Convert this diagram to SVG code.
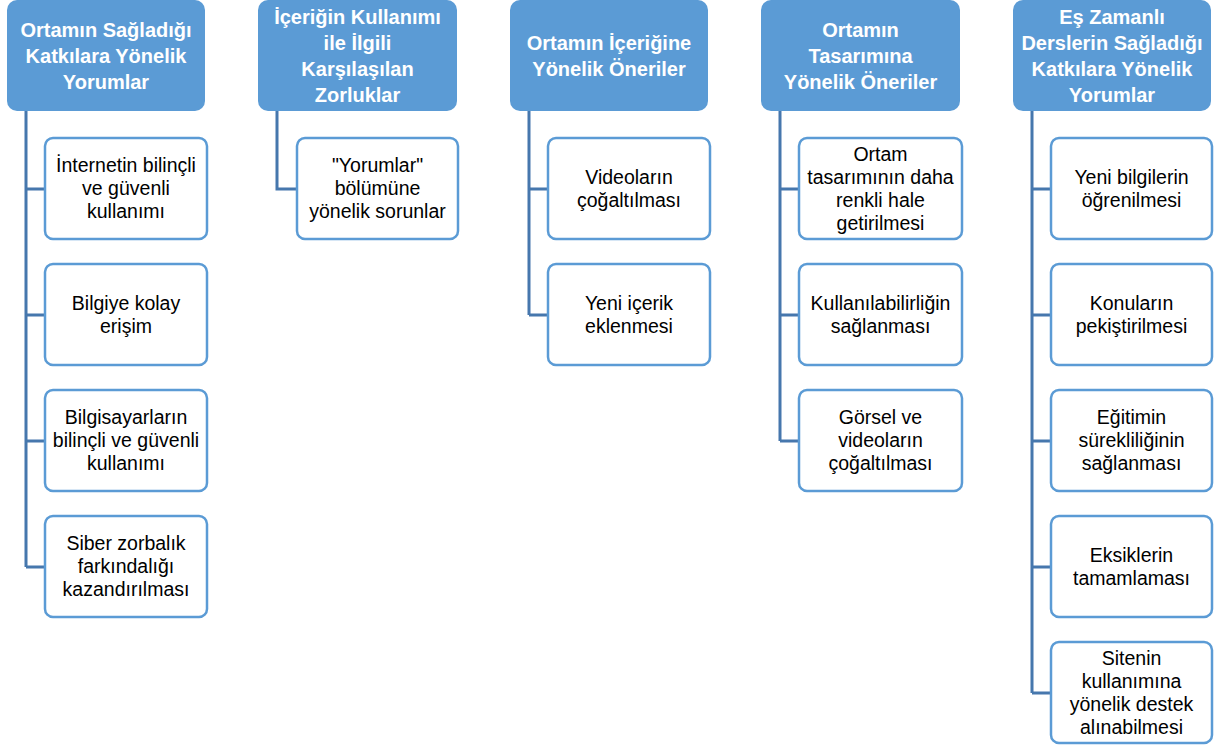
<svg xmlns="http://www.w3.org/2000/svg" width="1222" height="746" viewBox="0 0 1222 746">
<style>
.h rect{fill:#5b9bd5;}
.h text{fill:#fff;font-family:"Liberation Sans",Arial,sans-serif;font-weight:bold;font-size:20px;text-anchor:middle;}
.c rect{fill:#fff;stroke:#5b9bd5;stroke-width:2.5;}
.c text{fill:#000;font-family:"Liberation Sans",Arial,sans-serif;font-size:19.5px;text-anchor:middle;}
#connectors path{fill:none;stroke:#4677ad;stroke-width:3;}
</style>
<rect width="1222" height="746" fill="#fff"/>
<g id="connectors">
<path d="M26 111V567M26 189H45M26 315H45M26 441H45M26 567H45"/>
<path d="M277 111V189H297"/>
<path d="M529 111V315M529 189H548M529 315H548"/>
<path d="M780 111V441M780 189H799M780 315H799M780 441H799"/>
<path d="M1032 111V693M1032 189H1051M1032 315H1051M1032 441H1051M1032 567H1051M1032 693H1051"/>
</g>
<g id="h1" class="h"><rect x="7" y="0" width="198" height="111" rx="10"/><text x="106" y="37">Ortamın Sağladığı</text><text x="106" y="63">Katkılara Yönelik</text><text x="106" y="89">Yorumlar</text></g>
<g id="h2" class="h"><rect x="258" y="0" width="199" height="111" rx="10"/><text x="357.5" y="24">İçeriğin Kullanımı</text><text x="357.5" y="50">ile İlgili</text><text x="357.5" y="76">Karşılaşılan</text><text x="357.5" y="102">Zorluklar</text></g>
<g id="h3" class="h"><rect x="510" y="0" width="198" height="111" rx="10"/><text x="609" y="50">Ortamın İçeriğine</text><text x="609" y="76">Yönelik Öneriler</text></g>
<g id="h4" class="h"><rect x="761" y="0" width="199" height="111" rx="10"/><text x="860.5" y="37">Ortamın</text><text x="860.5" y="63">Tasarımına</text><text x="860.5" y="89">Yönelik Öneriler</text></g>
<g id="h5" class="h"><rect x="1013" y="0" width="198" height="111" rx="10"/><text x="1112" y="24">Eş Zamanlı</text><text x="1112" y="50">Derslerin Sağladığı</text><text x="1112" y="76">Katkılara Yönelik</text><text x="1112" y="102">Yorumlar</text></g>

<g id="c1a" class="c"><rect x="45" y="138" width="162" height="101" rx="8"/><text x="126" y="172">İnternetin bilinçli</text><text x="126" y="195">ve güvenli</text><text x="126" y="218">kullanımı</text></g>
<g id="c1b" class="c"><rect x="45" y="264" width="162" height="101" rx="8"/><text x="126" y="309.5">Bilgiye kolay</text><text x="126" y="332.5">erişim</text></g>
<g id="c1c" class="c"><rect x="45" y="390" width="162" height="101" rx="8"/><text x="126" y="424">Bilgisayarların</text><text x="126" y="447">bilinçli ve güvenli</text><text x="126" y="470">kullanımı</text></g>
<g id="c1d" class="c"><rect x="45" y="516" width="162" height="101" rx="8"/><text x="126" y="550">Siber zorbalık</text><text x="126" y="573">farkındalığı</text><text x="126" y="596">kazandırılması</text></g>

<g id="c2a" class="c"><rect x="297" y="138" width="161" height="101" rx="8"/><text x="377.5" y="172">"Yorumlar"</text><text x="377.5" y="195">bölümüne</text><text x="377.5" y="218">yönelik sorunlar</text></g>

<g id="c3a" class="c"><rect x="548" y="138" width="162" height="101" rx="8"/><text x="629" y="183.5">Videoların</text><text x="629" y="206.5">çoğaltılması</text></g>
<g id="c3b" class="c"><rect x="548" y="264" width="162" height="101" rx="8"/><text x="629" y="309.5">Yeni içerik</text><text x="629" y="332.5">eklenmesi</text></g>

<g id="c4a" class="c"><rect x="799" y="138" width="163" height="101" rx="8"/><text x="880.5" y="160.5">Ortam</text><text x="880.5" y="183.5">tasarımının daha</text><text x="880.5" y="206.5">renkli hale</text><text x="880.5" y="229.5">getirilmesi</text></g>
<g id="c4b" class="c"><rect x="799" y="264" width="163" height="101" rx="8"/><text x="880.5" y="309.5">Kullanılabilirliğin</text><text x="880.5" y="332.5">sağlanması</text></g>
<g id="c4c" class="c"><rect x="799" y="390" width="163" height="101" rx="8"/><text x="880.5" y="424">Görsel ve</text><text x="880.5" y="447">videoların</text><text x="880.5" y="470">çoğaltılması</text></g>

<g id="c5a" class="c"><rect x="1051" y="138" width="161" height="101" rx="8"/><text x="1131.5" y="183.5">Yeni bilgilerin</text><text x="1131.5" y="206.5">öğrenilmesi</text></g>
<g id="c5b" class="c"><rect x="1051" y="264" width="161" height="101" rx="8"/><text x="1131.5" y="309.5">Konuların</text><text x="1131.5" y="332.5">pekiştirilmesi</text></g>
<g id="c5c" class="c"><rect x="1051" y="390" width="161" height="101" rx="8"/><text x="1131.5" y="424">Eğitimin</text><text x="1131.5" y="447">sürekliliğinin</text><text x="1131.5" y="470">sağlanması</text></g>
<g id="c5d" class="c"><rect x="1051" y="516" width="161" height="101" rx="8"/><text x="1131.5" y="561.5">Eksiklerin</text><text x="1131.5" y="584.5">tamamlaması</text></g>
<g id="c5e" class="c"><rect x="1051" y="642" width="161" height="101" rx="8"/><text x="1131.5" y="664.5">Sitenin</text><text x="1131.5" y="687.5">kullanımına</text><text x="1131.5" y="710.5">yönelik destek</text><text x="1131.5" y="733.5">alınabilmesi</text></g>
</svg>
